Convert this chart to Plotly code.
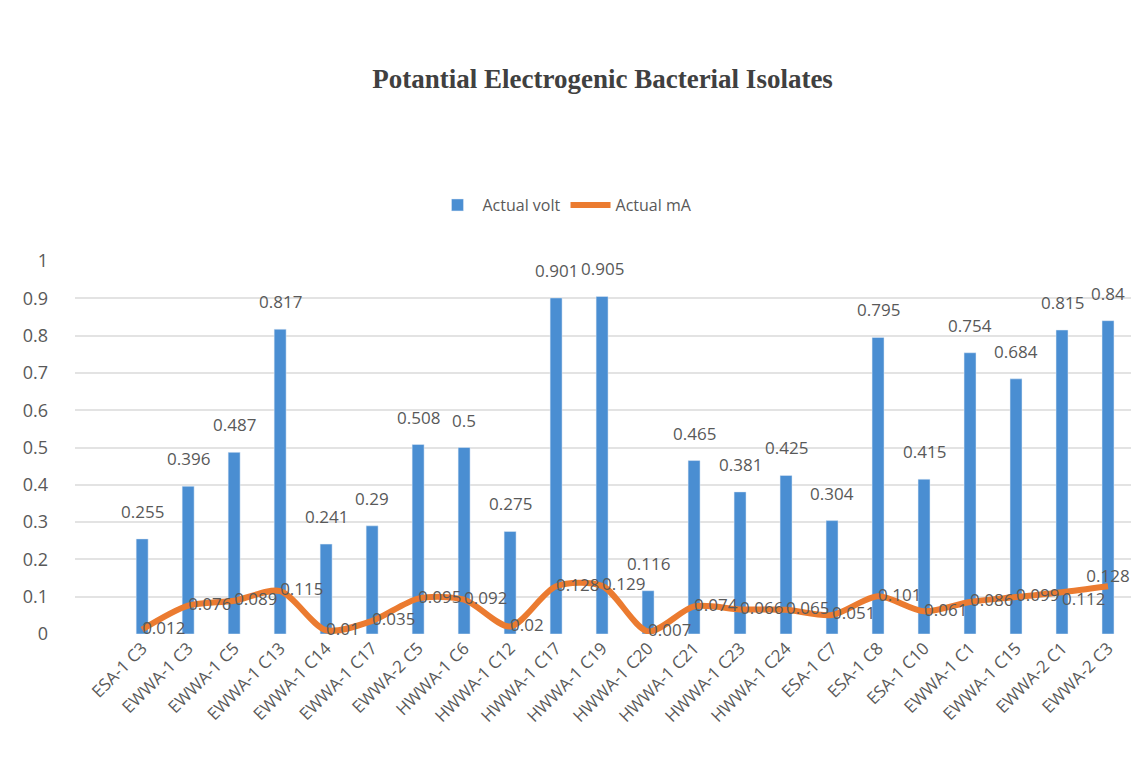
import plotly.graph_objects as go

categories = ["ESA-1 C3", "EWWA-1 C3", "EWWA-1 C5", "EWWA-1 C13", "EWWA-1 C14", "EWWA-1 C17",
              "EWWA-2 C5", "HWWA-1 C6", "HWWA-1 C12", "HWWA-1 C17", "HWWA-1 C19", "HWWA-1 C20",
              "HWWA-1 C21", "HWWA-1 C23", "HWWA-1 C24", "ESA-1 C7", "ESA-1 C8", "ESA-1 C10",
              "EWWA-1 C1", "EWWA-1 C15", "EWWA-2 C1", "EWWA-2 C3"]
actual_volt = [0.255, 0.396, 0.487, 0.817, 0.241, 0.29, 0.508, 0.5, 0.275, 0.901, 0.905, 0.116,
               0.465, 0.381, 0.425, 0.304, 0.795, 0.415, 0.754, 0.684, 0.815, 0.84]
actual_ma = [0.012, 0.076, 0.089, 0.115, 0.01, 0.035, 0.095, 0.092, 0.02, 0.128, 0.129, 0.007,
             0.074, 0.066, 0.065, 0.051, 0.101, 0.061, 0.086, 0.099, 0.112, 0.128]
y_ticks = [0, 0.1, 0.2, 0.3, 0.4, 0.5, 0.6, 0.7, 0.8, 0.9, 1]

label_font = dict(family="Open Sans", size=17, color="#595959")

fig = go.Figure()
fig.add_trace(go.Bar(
    x=categories, y=actual_volt, name="Actual volt",
    marker_color="#4A8ED2", width=0.26,
))
ma_positions = ["middle right"] * (len(actual_ma) - 2) + ["bottom right", "top center"]
fig.add_trace(go.Scatter(
    x=categories, y=actual_ma, name="Actual mA", mode="lines+text",
    line=dict(color="#EB7B30", width=6, shape="spline", smoothing=0.8),
    text=[f"{v:g}" for v in actual_ma], textposition=ma_positions,
    textfont=label_font, cliponaxis=False,
))

# bar value labels, placed above each bar
for cat, v in zip(categories, actual_volt):
    fig.add_annotation(x=cat, y=v, text=f"{v:g}", showarrow=False,
                       xref="x", yref="y", yanchor="bottom", yshift=14,
                       font=label_font)

fig.update_layout(
    width=1139, height=780,
    paper_bgcolor="white", plot_bgcolor="white",
    title=dict(text="<b>Potantial Electrogenic Bacterial Isolates</b>",
               x=0.522, xanchor="center", y=0.91, yanchor="middle",
               font=dict(family="Liberation Serif", size=27, color="#404040")),
    legend=dict(orientation="h", x=0.464, xanchor="center", y=1.15, yanchor="middle",
                font=dict(family="Open Sans", size=16, color="#595959"),
                traceorder="normal", itemwidth=40),
    margin=dict(l=67, r=16, t=253, b=154),
    showlegend=True,
)
fig.update_xaxes(tickangle=-45, tickfont=dict(family="Open Sans", size=17, color="#595959"),
                 showgrid=False, showline=False, ticks="", automargin=False,
                 range=[-1.46, 21.5])
fig.update_yaxes(range=[0, 1], tickvals=y_ticks, ticktext=[f"{t:g}" for t in y_ticks],
                 tickfont=dict(family="Open Sans", size=18, color="#595959"),
                 gridcolor="#E3E3E3", gridwidth=1.5, zeroline=False, showline=False,
                 ticklabelstandoff=26, automargin=False)

fig.write_html("out.html")
